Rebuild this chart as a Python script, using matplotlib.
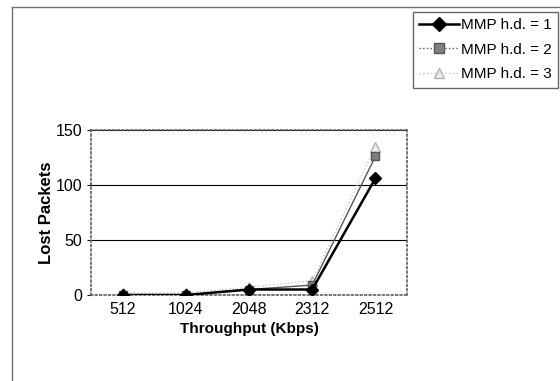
import matplotlib.pyplot as plt
from matplotlib.lines import Line2D

plt.rcParams['font.family'] = ['Liberation Sans', 'DejaVu Sans']

throughput = ['512', '1024', '2048', '2312', '2512']
hd1 = [0, 0, 5, 5, 106]
hd2 = [0, 0, 5, 9, 126]
hd3 = [2, 2, 7, 13, 135]

fig = plt.figure(figsize=(5.6, 3.81), dpi=100)
ax = fig.add_axes([91 / 560, 1 - 295 / 381, 316 / 560, 165 / 381])

x = range(len(throughput))
ax.plot(x, hd3, color='#c8c8c8', lw=1, ls=':', marker='^', ms=7,
        mfc='#eeeeee', mec='#b0b0b0', zorder=3)
ax.plot(x, hd2, color='#555555', lw=1, marker='s', ms=6,
        mfc='#808080', mec='#555555', zorder=4)
ax.plot(x, hd1, color='black', lw=1.8, marker='D', ms=6,
        mfc='black', mec='black', zorder=5)

ax.set_xlim(-0.5, 4.5)
ax.set_ylim(0, 150)
ax.set_xticks(list(x))
ax.set_xticklabels(throughput)
ax.set_yticks([0, 50, 100, 150])
ax.yaxis.grid(True, color='black', lw=0.8)
ax.set_axisbelow(True)
for s in ax.spines.values():
    s.set_color('#606060')
    s.set_linestyle(':')
    s.set_linewidth(1.2)
ax.tick_params(labelsize=11.5, length=3, colors='black')
ax.tick_params(axis='x', length=0, pad=5)
ax.set_xlabel('Throughput (Kbps)', fontsize=11, fontweight='bold', labelpad=4)
ax.set_ylabel('Lost Packets', fontsize=12, fontweight='bold', labelpad=1)

handles = [
    Line2D([], [], color='black', lw=1.8, marker='D', ms=7, mfc='black'),
    Line2D([], [], color='#555555', lw=1, ls=':', marker='s', ms=7, mfc='#808080', mec='#555555'),
    Line2D([], [], color='#c8c8c8', lw=1, ls=':', marker='^', ms=7, mfc='#eeeeee', mec='#b0b0b0'),
]
leg = fig.legend(handles, ['MMP h.d. = 1', 'MMP h.d. = 2', 'MMP h.d. = 3'],
                 loc='upper right', bbox_to_anchor=(558 / 560, 1 - 12 / 381),
                 fontsize=11, frameon=True, fancybox=False, handlelength=2.6,
                 handletextpad=0.15, borderpad=0.4, labelspacing=0.7, borderaxespad=0)
leg.get_frame().set_edgecolor('#404040')
leg.get_frame().set_linewidth(1)

# chart-area border: only top and left edges show
fig.add_artist(Line2D([12 / 560, 1], [1 - 7 / 381] * 2, transform=fig.transFigure,
                      color='#707070', lw=1))
fig.add_artist(Line2D([12 / 560] * 2, [0, 1 - 7 / 381], transform=fig.transFigure,
                      color='#707070', lw=1))

fig.savefig('out.png', dpi=100)
